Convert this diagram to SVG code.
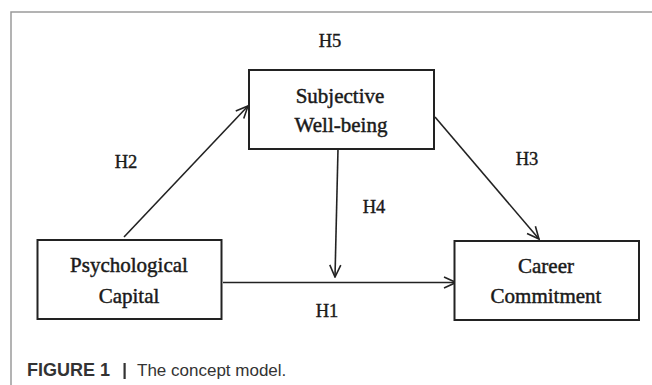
<svg xmlns="http://www.w3.org/2000/svg" width="652" height="385" viewBox="0 0 652 385">
<style>
.frame{fill:none;stroke:#9a9a9a;stroke-width:1.5}
.box{fill:#fff;stroke:#222;stroke-width:2}
.lbl{font-family:"Liberation Serif","Times New Roman",serif;font-size:21px;fill:#1a1a1a;stroke:#1a1a1a;stroke-width:0.45;text-anchor:middle}
.h{font-family:"Liberation Serif","Times New Roman",serif;font-size:18.5px;fill:#1a1a1a;stroke:#1a1a1a;stroke-width:0.4;text-anchor:middle}
.edge{fill:none;stroke:#222;stroke-width:1.6}
.capb{font-family:"Liberation Sans",Arial,sans-serif;font-size:18px;font-weight:bold;fill:#333}
.cap{font-family:"Liberation Sans",Arial,sans-serif;font-size:17px;fill:#333}
</style>
<defs>
<marker id="arr" viewBox="0 0 14 14" refX="13" refY="7" markerWidth="14" markerHeight="14" markerUnits="userSpaceOnUse" orient="auto">
<path d="M1,1.5 L13,7 L1,12.5" fill="none" stroke="#222" stroke-width="1.6"/>
</marker>
</defs>
<rect width="652" height="385" fill="#fff"/>
<path class="frame" d="M11,385 V12 H652"/>
<g id="connectors">
<line class="edge" x1="124" y1="237" x2="248" y2="106" marker-end="url(#arr)"/>
<line class="edge" x1="435" y1="117" x2="539" y2="239" marker-end="url(#arr)"/>
<line class="edge" x1="338" y1="149" x2="335" y2="277" marker-end="url(#arr)"/>
<line class="edge" x1="223" y1="282.5" x2="456" y2="282.5" marker-end="url(#arr)"/>
</g>
<g id="labels">
<text class="h" x="330" y="47">H5</text>
<text class="h" x="126" y="168">H2</text>
<text class="h" x="527" y="165">H3</text>
<text class="h" x="374" y="213">H4</text>
<text class="h" x="327" y="317">H1</text>
</g>
<g id="subjective-well-being">
<rect class="box" x="249" y="70" width="185" height="79"/>
<text class="lbl" x="340" y="103">Subjective</text>
<text class="lbl" x="341" y="132">Well-being</text>
</g>
<g id="psychological-capital">
<rect class="box" x="37.5" y="240" width="184" height="79"/>
<text class="lbl" x="129" y="272">Psychological</text>
<text class="lbl" x="129" y="303">Capital</text>
</g>
<g id="career-commitment">
<rect class="box" x="454.5" y="241" width="184.5" height="79"/>
<text class="lbl" x="546" y="273">Career</text>
<text class="lbl" x="546" y="303">Commitment</text>
</g>
<g id="caption">
<text class="capb" x="27" y="376">FIGURE 1</text>
<rect x="123.5" y="363" width="2.2" height="16" fill="#333"/>
<text class="cap" x="137" y="376">The concept model.</text>
</g>
</svg>
